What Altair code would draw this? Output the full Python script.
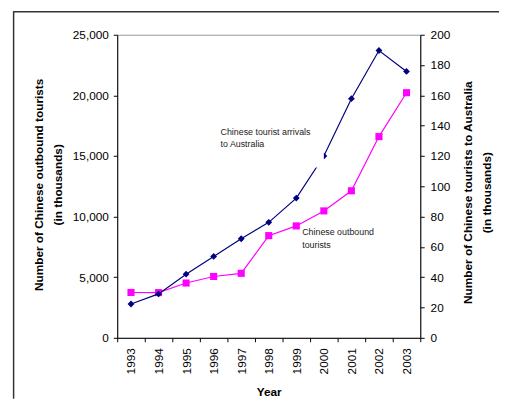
import altair as alt
import pandas as pd

# ---- data ----
years = ["1993", "1994", "1995", "1996", "1997", "1998", "1999", "2000", "2001", "2002", "2003"]
outbound = [3740, 3730, 4520, 5060, 5320, 8430, 9230, 10470, 12130, 16600, 20220]      # thousands (left axis)
australia = [22.3, 29.0, 42.0, 53.7, 65.4, 76.2, 92.2, 120.0, 157.8, 189.6, 175.8]     # thousands (right axis)
left_ticks = [0, 5000, 10000, 15000, 20000, 25000]
right_ticks = [0, 20, 40, 60, 80, 100, 120, 140, 160, 180, 200]

df = pd.DataFrame({"Year": years, "outbound": outbound, "australia": australia})
one = pd.DataFrame({"k": [0]})

FONT = "Liberation Sans"
MAGENTA = "#FF00FF"
NAVY = "#000080"

x_enc = alt.X(
    "Year:O",
    sort=years,
    scale=alt.Scale(type="band", paddingInner=0, paddingOuter=0),
    axis=alt.Axis(
        title="Year",
        labelAngle=270,
        tickBand="extent",
        tickSize=4,
        labelPadding=6,
        titlePadding=13,
        titleFontWeight="bold",
    ),
)

magenta = alt.Chart(df).mark_line(
    color=MAGENTA, strokeWidth=1.2,
    point=alt.OverlayMarkDef(shape="square", size=52, filled=True, color=MAGENTA, opacity=1),
).encode(
    x=x_enc,
    y=alt.Y(
        "outbound:Q",
        scale=alt.Scale(domain=[0, 25000], nice=False, zero=True),
        axis=alt.Axis(
            orient="left",
            values=left_ticks,
            format=",.0f",
            title=["Number of Chinese outbound tourists", "(in thousands)"],
            titleAngle=270,
            titleAlign="center",
            titleBaseline="middle",
            titleX=-80,
            titleY=152,
            titleLineHeight=19,
            titleFontWeight="bold",
            tickSize=4,
            labelPadding=5,
            grid=False,
        ),
    ),
)

navy = alt.Chart(df).mark_line(
    color=NAVY, strokeWidth=1.2,
    point=alt.OverlayMarkDef(shape="diamond", size=48, filled=True, color=NAVY, opacity=1),
).encode(
    x=x_enc,
    y=alt.Y(
        "australia:Q",
        scale=alt.Scale(domain=[0, 200], nice=False, zero=True),
        axis=alt.Axis(
            orient="right",
            values=right_ticks,
            format=",.0f",
            title=["Number of Chinese tourists to Australia", "(in thousands)"],
            titleAngle=270,
            titleAlign="center",
            titleBaseline="middle",
            titleX=48,
            titleY=160,
            titleLineHeight=19,
            titleFontWeight="bold",
            tickSize=4,
            labelPadding=6,
            grid=False,
        ),
    ),
)

# white label box that hides part of the arrivals line (as in the reference)
box = alt.Chart(one).mark_rect(color="white", opacity=1).encode(
    x=alt.value(99), x2=alt.value(210), y=alt.value(86), y2=alt.value(135)
)


def note(txt, px, py):
    return alt.Chart(pd.DataFrame({"t": [txt]})).mark_text(
        align="left", baseline="middle", font=FONT, fontSize=9, color="#222222"
    ).encode(text="t:N", x=alt.value(px), y=alt.value(py))


n1 = note("Chinese tourist arrivals", 105, 98.5)
n2 = note("to Australia", 105, 111)
n3 = note("Chinese outbound", 188, 200.5)
n4 = note("tourists", 188, 213.5)

frame_top = alt.Chart(one).mark_rule(color="#333333", strokeWidth=1.5).encode(
    x=alt.value(-105.5), x2=alt.value(390), y=alt.value(-23.3)
)
frame_left = alt.Chart(one).mark_rule(color="#333333", strokeWidth=1.5).encode(
    x=alt.value(-105.3), y=alt.value(-24), y2=alt.value(370)
)

chart = (
    alt.layer(magenta, navy, box, n1, n2, n3, n4, frame_top, frame_left)
    .resolve_scale(y="independent")
    .properties(
        width=308,
        height=308,
        padding={"left": 111, "top": 24, "right": 80, "bottom": 60},
        autosize=alt.AutoSizeParams(type="none"),
        background="white",
    )
    .configure_view(stroke="#999999", strokeWidth=1)
    .configure_axis(
        domainColor="black",
        domainWidth=1,
        tickColor="black",
        labelColor="black",
        titleColor="black",
        labelFont=FONT,
        titleFont=FONT,
        labelFontSize=12,
        titleFontSize=12,
        grid=False,
    )
)

chart.save("out.html", embed_options={"renderer": "svg", "actions": False})
